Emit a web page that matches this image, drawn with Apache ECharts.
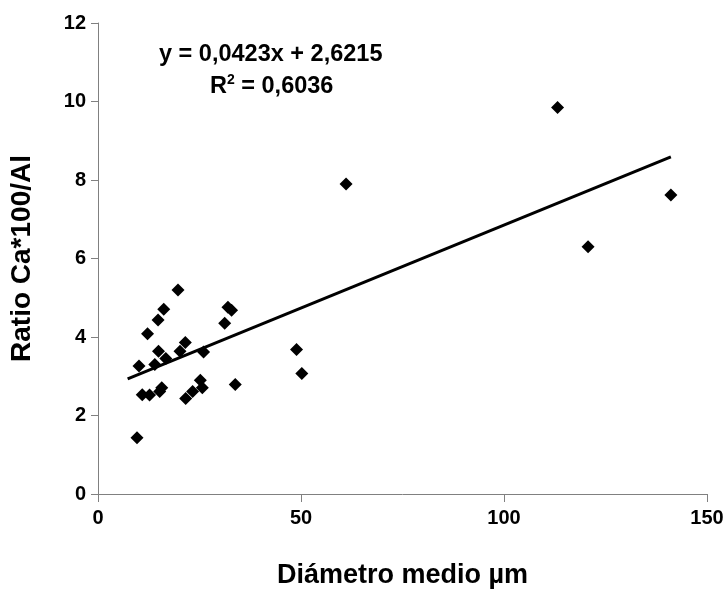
<!DOCTYPE html>
<html>
<head>
<meta charset="utf-8">
<script src="https://cdn.jsdelivr.net/npm/echarts@6/dist/echarts.min.js"></script>
<style>
  html, body { margin: 0; padding: 0; background: #fff; }
  #chart { width: 727px; height: 594px; }
</style>
</head>
<body>
<div id="chart"></div>
<script>
// Mean particle diameter (µm) and Ca*100/Al ratio for each sample
const diametros = [19.7, 16.2, 14.8, 12.2, 32.0, 32.9, 31.2, 21.5, 20.2, 14.9,
                   16.7, 14.0, 10.1, 26.0, 48.9, 50.2, 33.8, 10.9, 12.7, 15.7,
                   15.2, 25.2, 25.7, 23.3, 21.6, 9.6, 61.1, 113.2, 141.1, 120.7];
const ratios    = [5.20, 4.71, 4.43, 4.08, 4.76, 4.68, 4.35, 3.86, 3.64, 3.64,
                   3.45, 3.30, 3.26, 3.62, 3.68, 3.07, 2.79, 2.53, 2.52, 2.71,
                   2.61, 2.90, 2.71, 2.61, 2.43, 1.43, 7.90, 9.85, 7.62, 6.30];

// Linear trend fitted to the samples
const pendiente = 0.0423;
const intercepto = 2.6215;
const r2 = 0.6036;
const tendenciaX = [7.3, 141.1];

const xTicks = [0, 50, 100, 150];
const yTicks = [0, 2, 4, 6, 8, 10, 12];

const puntos = diametros.map((d, i) => [d, ratios[i]]);
const tendencia = tendenciaX.map(x => [x, pendiente * x + intercepto]);

const coma = v => String(v).replace('.', ',');
const fuente = 'Arial, "Liberation Sans", sans-serif';

const chart = echarts.init(document.getElementById('chart'), null, { renderer: 'canvas' });
chart.setOption({
  animation: false,
  backgroundColor: '#ffffff',
  grid: { left: 97, right: 20, top: 23, bottom: 97 },
  xAxis: {
    type: 'value',
    min: xTicks[0], max: xTicks[xTicks.length - 1], interval: 50,
    name: 'Diámetro medio µm',
    nameLocation: 'middle',
    nameGap: 68,
    nameTextStyle: { fontFamily: fuente, fontWeight: 'bold', fontSize: 27, color: '#000' },
    axisLine: { lineStyle: { color: '#808080', width: 1 } },
    axisTick: { inside: false, length: 8, lineStyle: { color: '#808080' } },
    axisLabel: { margin: 14, fontFamily: fuente, fontWeight: 'bold', fontSize: 20, color: '#000' },
    splitLine: { show: false }
  },
  yAxis: {
    type: 'value',
    min: yTicks[0], max: yTicks[yTicks.length - 1], interval: 2,
    name: 'Ratio Ca*100/Al',
    nameLocation: 'middle',
    nameGap: 62,
    nameTextStyle: { fontFamily: fuente, fontWeight: 'bold', fontSize: 28, color: '#000' },
    axisLine: { show: true, lineStyle: { color: '#808080', width: 1 } },
    axisTick: { show: true, inside: false, length: 7, lineStyle: { color: '#808080' } },
    axisLabel: { margin: 12, fontFamily: fuente, fontWeight: 'bold', fontSize: 20, color: '#000' },
    splitLine: { show: false }
  },
  series: [
    {
      type: 'scatter',
      data: puntos,
      symbol: 'diamond',
      symbolSize: 13,
      itemStyle: { color: '#000', opacity: 1 },
      z: 3
    },
    {
      type: 'line',
      data: tendencia,
      symbol: 'none',
      lineStyle: { color: '#000', width: 3 },
      z: 2
    }
  ],
  graphic: [
    {
      type: 'text',
      left: 159, top: 43,
      style: {
        text: 'y = ' + coma(pendiente) + 'x + ' + coma(intercepto),
        font: 'bold 23.5px ' + fuente,
        fill: '#000'
      }
    },
    {
      type: 'text',
      left: 210, top: 73,
      style: {
        text: '{b|R}{s|2}{b| = ' + coma(r2) + '}',
        rich: {
          b: { font: 'bold 23.5px ' + fuente, fill: '#000', verticalAlign: 'bottom' },
          s: { font: 'bold 14px ' + fuente, fill: '#000', verticalAlign: 'top', padding: [0, 0, 12, 0] }
        }
      }
    }
  ]
});
</script>
</body>
</html>
